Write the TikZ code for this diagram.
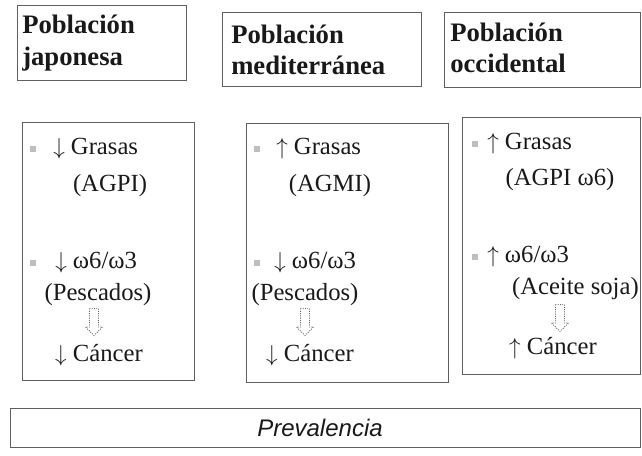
\documentclass[tikz,border=0pt]{standalone}
\usepackage{fontspec}
\setmainfont{Liberation Serif}
\setsansfont{Liberation Sans}
\usepackage{xcolor}
\definecolor{framegray}{RGB}{95,95,95}
\definecolor{bulletgray}{RGB}{190,190,190}
\definecolor{inkblack}{RGB}{25,25,25}

\tikzset{
  frame/.style={framegray, line width=0.6pt},
  head/.style={anchor=west, align=left, inner sep=0pt, text=inkblack,
    font=\bfseries\fontsize{20}{23.5}\selectfont},
  item/.style={inner sep=0pt, text=inkblack, font=\fontsize{18.5}{21}\selectfont},
  bullet/.style={fill=bulletgray, minimum size=4.5pt, inner sep=0pt},
  pics/hollowdown/.style={code={
    \draw[framegray, densely dotted, line width=0.7pt]
      (-4.5,-13.5) -- (4.5,-13.5) -- (4.5,5) -- (8.5,5) -- (0,13.5)
      -- (-8.5,5) -- (-4.5,5) -- cycle;
  }}
}

\begin{document}
\begin{tikzpicture}[x=0.75pt,y=-0.75pt]
    \useasboundingbox (0,0) rectangle (642,455);

    % Population headers
    \draw[frame] (17,5) rectangle (186,80);
    \node (jap) [head] at (22,43) {Población\\japonesa};
    \draw[frame] (222,12) rectangle (421,86);
    \node (med) [head] at (231,50) {Población\\mediterránea};
    \draw[frame] (444,12) rectangle (640,87);
    \node (occ) [head] at (450,48) {Población\\occidental};

    % Japonesa
    \draw[frame] (22,122) rectangle (194,380);
    \node (bj1) [bullet] at (33,149) {};
    \node (gj) [item, anchor=west] at (53,149) {$\downarrow$ Grasas};
    \node (aj) [item] at (110,186) {(AGPI)};
    \node (bj2) [bullet] at (33,263) {};
    \node (wj) [item, anchor=west] at (55,263) {$\downarrow$ ω6/ω3};
    \node (pj) [item] at (98,295) {(Pescados)};
    \pic (hj) at (94,322) {hollowdown};
    \node (cj) [item] at (99,355) {$\downarrow$ Cáncer};

    % Mediterranea
    \draw[frame] (246,123) rectangle (448,382);
    \node (bm1) [bullet] at (257,149) {};
    \node (gm) [item, anchor=west] at (276,149) {$\uparrow$ Grasas};
    \node (am) [item] at (330,186) {(AGMI)};
    \node (bm2) [bullet] at (257,263) {};
    \node (wm) [item, anchor=west] at (274,263) {$\downarrow$ ω6/ω3};
    \node (pm) [item] at (305,295) {(Pescados)};
    \pic (hm) at (305,322) {hollowdown};
    \node (cm) [item] at (310,355) {$\downarrow$ Cáncer};

    % Occidental
    \draw[frame] (462,117) rectangle (640,374);
    \node (bo1) [bullet] at (475,144) {};
    \node (go) [item, anchor=west] at (487,144) {$\uparrow$ Grasas};
    \node (ao) [item] at (560,180) {(AGPI ω6)};
    \node (bo2) [bullet] at (475,257) {};
    \node (wo) [item, anchor=west] at (487,257) {$\uparrow$ ω6/ω3};
    \node (po) [item, anchor=east] at (639,289) {(Aceite soja)};
    \pic (ho) at (560,318) {hollowdown};
    \node (co) [item] at (553,348) {$\uparrow$ Cáncer};

    % Prevalencia
    \draw[frame] (10,408) rectangle (640,447);
    \node (prev) [inner sep=0pt, text=inkblack, font=\sffamily\itshape\fontsize{18}{21}\selectfont]
      at (320,428) {Prevalencia};
\end{tikzpicture}
\end{document}
